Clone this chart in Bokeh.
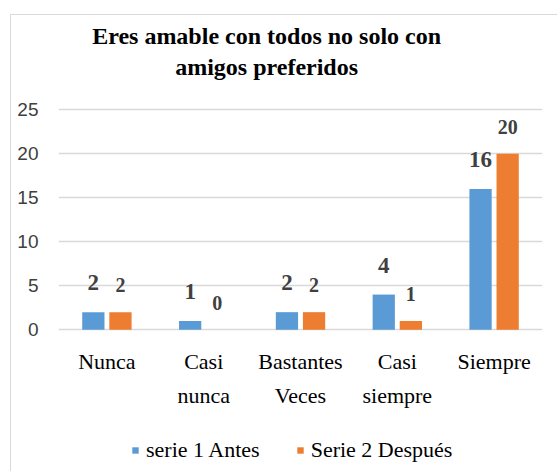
from bokeh.plotting import figure
from bokeh.models import (ColumnDataSource, Range1d, FixedTicker,
                          LabelSet, Label, Legend, LegendItem)
from bokeh.transform import dodge
from bokeh.embed import file_html
from bokeh.resources import INLINE

categories = ["Nunca", "Casi nunca", "Bastantes Veces", "Casi siempre", "Siempre"]
tick_line1 = ["Nunca", "Casi", "Bastantes", "Casi", "Siempre"]
tick_line2 = ["", "nunca", "Veces", "siempre", ""]
serie1_antes = [2, 1, 2, 4, 16]
serie2_despues = [2, 0, 2, 1, 20]
y_ticks = [0, 5, 10, 15, 20, 25]
title_lines = ["Eres amable con todos no solo con", "amigos preferidos"]
series_names = ["serie 1 Antes", "Serie 2 Después"]

BLUE = "#5B9BD5"
ORANGE = "#ED7D31"
SANS = "Arial"
SERIF = "Times"

x_pos = [i + 0.5 for i in range(len(categories))]

src = ColumnDataSource(dict(
    x=x_pos,
    a=serie1_antes,
    d=serie2_despues,
    a_txt=[str(v) for v in serie1_antes],
    d_txt=[str(v) for v in serie2_despues],
    l1=tick_line1,
    l2=tick_line2,
))

# y=0 at 330px, y=25 at 110px in the page; frame spans the whole height
p = figure(x_range=Range1d(0, len(categories)), y_range=Range1d(-16.1, 35.7),
           frame_width=484, frame_height=456,
           output_backend="svg", toolbar_location=None,
           x_axis_location=None,
           min_border_left=47, min_border_right=15, min_border_top=0,
           min_border_bottom=0)
p.margin = (14, 0, 0, 10)
p.styles = {"border-left": "1px solid #d9d9d9", "border-top": "1px solid #d9d9d9"}
p.outline_line_color = None
p.background_fill_color = "white"
p.border_fill_color = "white"

r1 = p.vbar(x=dodge("x", -0.14), top="a", width=0.23,
            source=src, fill_color=BLUE, line_color=None)
r2 = p.vbar(x=dodge("x", 0.14), top="d", width=0.23,
            source=src, fill_color=ORANGE, line_color=None)

p.add_layout(LabelSet(x=dodge("x", -0.14), y="a", text="a_txt", source=src,
                      text_align="center", text_baseline="alphabetic",
                      y_offset=22, text_font=SANS, text_font_style="bold",
                      text_font_size="23px", text_color="#404040"))
p.add_layout(LabelSet(x=dodge("x", 0.14), y="d", text="d_txt", source=src,
                      text_align="center", text_baseline="alphabetic",
                      y_offset=20, text_font=SANS, text_font_style="bold",
                      text_font_size="20px", text_color="#404040"))

# category labels (two lines) under the baseline
p.add_layout(LabelSet(x="x", y=-4.45, text="l1", source=src,
                      text_align="center", text_baseline="alphabetic",
                      text_font=SERIF, text_font_size="22px",
                      text_color="#000000"))
p.add_layout(LabelSet(x="x", y=-8.3, text="l2", source=src,
                      text_align="center", text_baseline="alphabetic",
                      text_font=SERIF, text_font_size="22px",
                      text_color="#000000"))

# grid / y axis
p.xgrid.grid_line_color = None
p.ygrid.ticker = FixedTicker(ticks=y_ticks)
p.ygrid.grid_line_color = "#d9d9d9"
p.ygrid.grid_line_width = 1.5
p.yaxis.ticker = FixedTicker(ticks=y_ticks)
p.yaxis.axis_line_color = None
p.yaxis.major_tick_line_color = None
p.yaxis.minor_tick_line_color = None
p.yaxis.major_tick_out = 0
p.yaxis.major_tick_in = 0
p.yaxis.minor_tick_out = 0
p.yaxis.minor_tick_in = 0
p.yaxis.major_label_standoff = 20
p.yaxis.major_label_text_font = SANS
p.yaxis.major_label_text_font_size = "19px"
p.yaxis.major_label_text_color = "#404040"

# title (two lines)
for txt, yy in zip(title_lines, [33.4, 29.9]):
    p.add_layout(Label(x=2.15, y=yy, text=txt, text_align="center",
                       text_baseline="alphabetic", text_font=SERIF,
                       text_font_style="bold", text_font_size="24px",
                       text_color="#000000"))

legend = Legend(items=[LegendItem(label=series_names[0], renderers=[r1]),
                       LegendItem(label=series_names[1], renderers=[r2])],
                orientation="horizontal", location=(73, 8),
                glyph_width=8, glyph_height=8, label_standoff=7, spacing=36,
                padding=0, margin=0, border_line_color=None,
                background_fill_alpha=0,
                label_text_font=SERIF, label_text_font_size="22px",
                label_text_color="#000000")
p.add_layout(legend, "center")

open("out.html", "w").write(file_html(p, INLINE))
